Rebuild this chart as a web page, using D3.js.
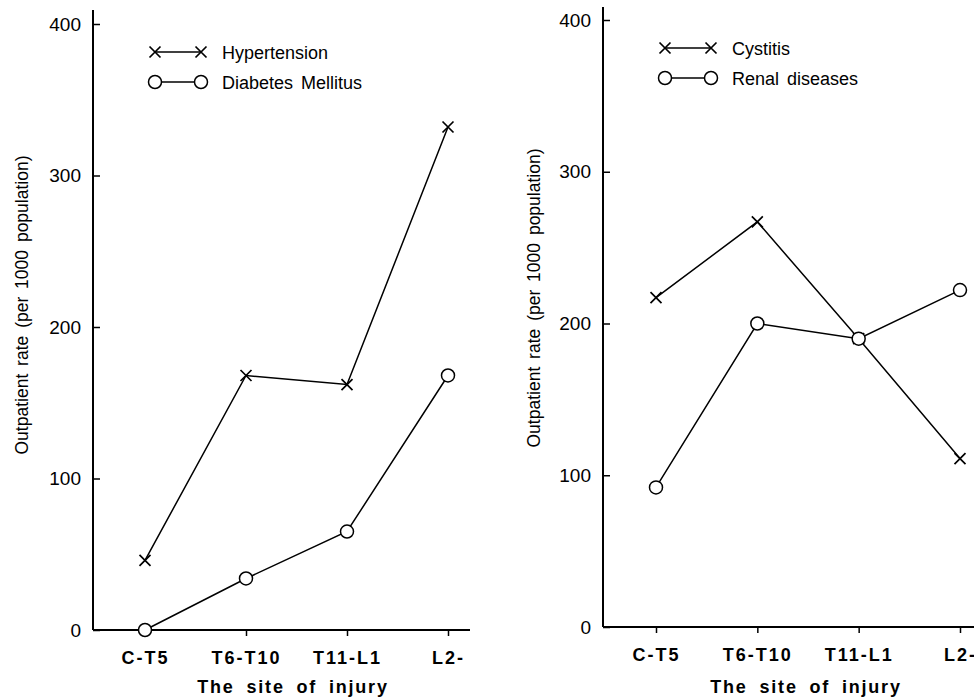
<!DOCTYPE html>
<html>
<head>
<meta charset="utf-8">
<script src="https://cdn.jsdelivr.net/npm/d3@7"></script>
<style>
  body { margin: 0; background: #fff; }
  svg { font-family: "Liberation Sans", Arial, sans-serif; }
</style>
</head>
<body>
<div id="chart"></div>
<script>
const sites = ['C-T5', 'T6-T10', 'T11-L1', 'L2-'];
const yTicks = [0, 100, 200, 300, 400];

const hypertension = [46, 168, 162, 332];
const diabetes = [0, 34, 65, 168];
const cystitis = [217, 267, 190, 111];
const renal = [92, 200, 190, 222];

const leftSeries = [
  {name: 'Hypertension', values: hypertension, mark: 'x'},
  {name: 'Diabetes Mellitus', values: diabetes, mark: 'o'}
];
const rightSeries = [
  {name: 'Cystitis', values: cystitis, mark: 'x'},
  {name: 'Renal diseases', values: renal, mark: 'o'}
];

const width = 974;
const height = 700;
const font = '"Liberation Sans", Arial, sans-serif';

const svg = d3.select('#chart').append('svg')
  .attr('width', width)
  .attr('height', height);

function drawMark(g, kind, x, y) {
  if (kind === 'x') {
    const s = 5.5;
    g.append('path')
      .attr('d', `M${x - s},${y - s}L${x + s},${y + s}M${x - s},${y + s}L${x + s},${y - s}`)
      .attr('stroke', '#000')
      .attr('stroke-width', 1.7)
      .attr('fill', 'none');
  } else {
    g.append('circle')
      .attr('cx', x)
      .attr('cy', y)
      .attr('r', 6.5)
      .attr('fill', '#fff')
      .attr('stroke', '#000')
      .attr('stroke-width', 1.5);
  }
}

function panel(p) {
  const g = svg.append('g');

  const x = d3.scalePoint().domain(sites).range([p.x0, p.x1]);
  const y = d3.scaleLinear().domain([0, 400]).range([p.yBottom, p.yTop]);

  // axis lines, drawn by hand because they run past the scale ranges
  g.append('line')
    .attr('x1', p.axisX).attr('x2', p.axisX)
    .attr('y1', p.axisTop).attr('y2', y(0))
    .attr('stroke', '#000').attr('stroke-width', 2);
  g.append('line')
    .attr('x1', p.axisX).attr('x2', p.axisRight)
    .attr('y1', y(0)).attr('y2', y(0))
    .attr('stroke', '#000').attr('stroke-width', 2);

  const yAxis = g.append('g')
    .attr('transform', `translate(${p.axisX},0)`)
    .call(d3.axisLeft(y).tickValues(yTicks).tickSizeInner(-7).tickSizeOuter(0).tickPadding(12));
  yAxis.select('.domain').remove();
  yAxis.selectAll('.tick line').attr('stroke-width', 1.5);
  yAxis.selectAll('text')
    .attr('font-size', 19)
    .attr('font-family', font)
    .attr('fill', '#000');

  const xAxis = g.append('g')
    .attr('transform', `translate(0,${y(0)})`)
    .call(d3.axisBottom(x).tickSizeInner(6).tickSizeOuter(0).tickPadding(15));
  xAxis.select('.domain').remove();
  xAxis.selectAll('.tick line').attr('stroke-width', 1.5);
  xAxis.selectAll('text')
    .attr('font-size', 18)
    .attr('font-weight', 'bold')
    .attr('letter-spacing', 2)
    .attr('font-family', font)
    .attr('fill', '#000');

  g.append('text')
    .attr('x', p.xTitleX)
    .attr('y', 693)
    .attr('text-anchor', 'middle')
    .attr('font-size', 18)
    .attr('font-weight', 'bold')
    .attr('letter-spacing', 1.8)
    .attr('word-spacing', 5)
    .text('The site of injury');

  g.append('text')
    .attr('transform', `translate(${p.yTitleX},${p.yTitleY}) rotate(-90)`)
    .attr('text-anchor', 'middle')
    .attr('font-size', 17.5)
    .attr('word-spacing', 3)
    .text('Outpatient rate (per 1000 population)');

  const line = d3.line()
    .x((d, i) => x(sites[i]))
    .y(d => y(d));

  p.series.forEach(s => {
    g.append('path')
      .datum(s.values)
      .attr('d', line)
      .attr('fill', 'none')
      .attr('stroke', '#000')
      .attr('stroke-width', 1.5);
  });
  p.series.forEach(s => {
    s.values.forEach((v, i) => drawMark(g, s.mark, x(sites[i]), y(v)));
  });

  // legend
  p.series.forEach((s, i) => {
    const ly = p.legendY + i * 30;
    g.append('line')
      .attr('x1', p.legendX).attr('x2', p.legendX + 46)
      .attr('y1', ly).attr('y2', ly)
      .attr('stroke', '#000').attr('stroke-width', 1.5);
    drawMark(g, s.mark, p.legendX, ly);
    drawMark(g, s.mark, p.legendX + 46, ly);
    g.append('text')
      .attr('x', p.legendX + 67)
      .attr('y', ly + 7)
      .attr('font-size', 18)
      .attr('word-spacing', 3)
      .text(s.name);
  });
}

panel({
  series: leftSeries,
  axisX: 93, axisTop: 10, axisRight: 470,
  x0: 145, x1: 448,
  yBottom: 630, yTop: 24,
  xTitleX: 293, yTitleX: 28, yTitleY: 305,
  legendX: 155, legendY: 52
});

panel({
  series: rightSeries,
  axisX: 603, axisTop: 7, axisRight: 980,
  x0: 656, x1: 960,
  yBottom: 627, yTop: 20,
  xTitleX: 806, yTitleX: 540, yTitleY: 298,
  legendX: 665, legendY: 48
});
</script>
</body>
</html>
